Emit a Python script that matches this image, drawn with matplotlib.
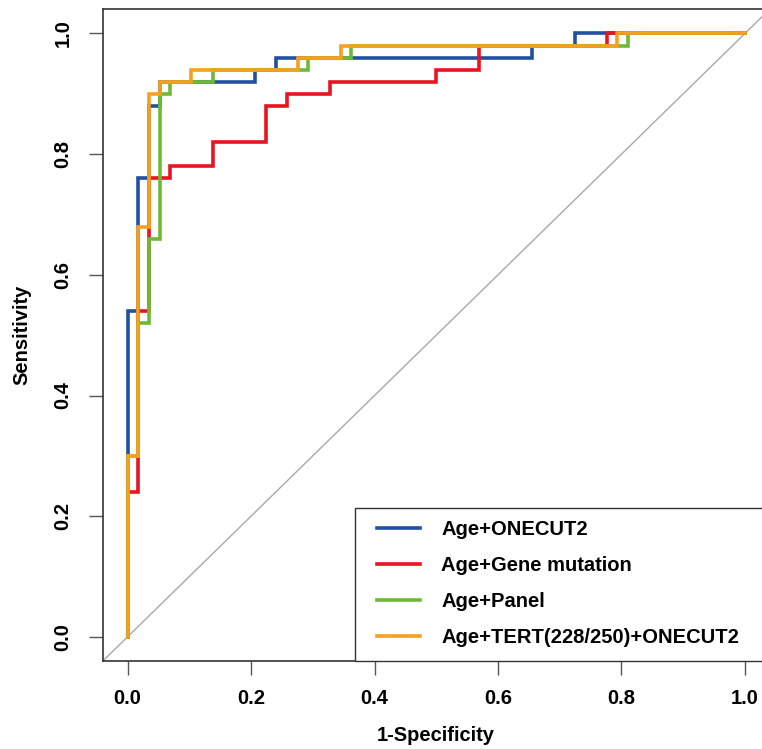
import matplotlib
matplotlib.use('Agg')
import matplotlib.pyplot as plt
from matplotlib.patches import Rectangle

plt.rcParams['font.family'] = ['Liberation Sans', 'DejaVu Sans']
plt.rcParams['font.weight'] = 'bold'

# ROC points (1-specificity, sensitivity), start of each horizontal run
fpr_onecut2 = [0.0, 0.0, 0.017, 0.034, 0.052, 0.207, 0.241, 0.655, 0.724, 1.0]
tpr_onecut2 = [0.0, 0.54, 0.76, 0.88, 0.92, 0.94, 0.96, 0.98, 1.0, 1.0]

fpr_gene = [0.0, 0.0, 0.017, 0.034, 0.069, 0.138, 0.224, 0.259, 0.328, 0.5, 0.569, 0.776, 1.0]
tpr_gene = [0.0, 0.24, 0.54, 0.76, 0.78, 0.82, 0.88, 0.90, 0.92, 0.94, 0.98, 1.0, 1.0]

fpr_panel = [0.0, 0.0, 0.017, 0.034, 0.052, 0.069, 0.138, 0.293, 0.362, 0.810, 1.0]
tpr_panel = [0.0, 0.30, 0.52, 0.66, 0.90, 0.92, 0.94, 0.96, 0.98, 1.0, 1.0]

fpr_tert = [0.0, 0.0, 0.017, 0.034, 0.052, 0.103, 0.276, 0.345, 0.793, 1.0]
tpr_tert = [0.0, 0.30, 0.68, 0.90, 0.92, 0.94, 0.96, 0.98, 1.0, 1.0]

labels = ['Age+ONECUT2', 'Age+Gene mutation', 'Age+Panel', 'Age+TERT(228/250)+ONECUT2']
colors = ['#2150A2', '#E8141F', '#6DBB35', '#F6A01D']
ticks = [0.0, 0.2, 0.4, 0.6, 0.8, 1.0]
tick_labels = ['0.0', '0.2', '0.4', '0.6', '0.8', '1.0']

fig = plt.figure(figsize=(7.62, 7.49), dpi=100)
ax = fig.add_axes([0.135, 0.1175, 0.875, 0.870])

ax.axline((0, 0), (1, 1), color='#A8A8A8', lw=1.0, zorder=1)

curves = [(fpr_onecut2, tpr_onecut2), (fpr_gene, tpr_gene),
          (fpr_panel, tpr_panel), (fpr_tert, tpr_tert)]
for (x, y), lab, col in zip(curves, labels, colors):
    ax.plot(x, y, drawstyle='steps-post', color=col, lw=2.6, label=lab,
            solid_joinstyle='miter')

ax.set_xlim(-0.04, 1.04)
ax.set_ylim(-0.04, 1.04)
ax.set_xticks(ticks)
ax.set_xticklabels(tick_labels)
ax.set_yticks(ticks)
ax.set_yticklabels(tick_labels, rotation=90, va='center')
ax.tick_params(axis='both', length=10, width=1.0, color='#555555',
               labelsize=14.5, pad=10)
ax.tick_params(axis='y', pad=12)
for s in ax.spines.values():
    s.set_linewidth(1.2)
    s.set_color('#333333')

ax.set_xlabel('1-Specificity', fontsize=14.5, fontweight='bold', labelpad=13)
ax.set_ylabel('Sensitivity', fontsize=14.5, fontweight='bold', labelpad=16)

# legend box (bottom right, cut by the right edge as in the original)
ax.add_patch(Rectangle((0.378, 0.0), 0.7, 0.2347, transform=ax.transAxes,
                       facecolor='white', edgecolor='#333333', lw=1.0,
                       zorder=5, clip_on=False))
leg = ax.legend(loc='upper left', bbox_to_anchor=(0.4108, 0.2165),
                borderaxespad=0, borderpad=0, fontsize=14.5, frameon=False,
                handlelength=2.14, handletextpad=1.05, labelspacing=0.84)
leg.set_zorder(6)
for t in leg.get_texts():
    t.set_fontweight('bold')

plt.savefig('out.png', dpi=100)
plt.close()
